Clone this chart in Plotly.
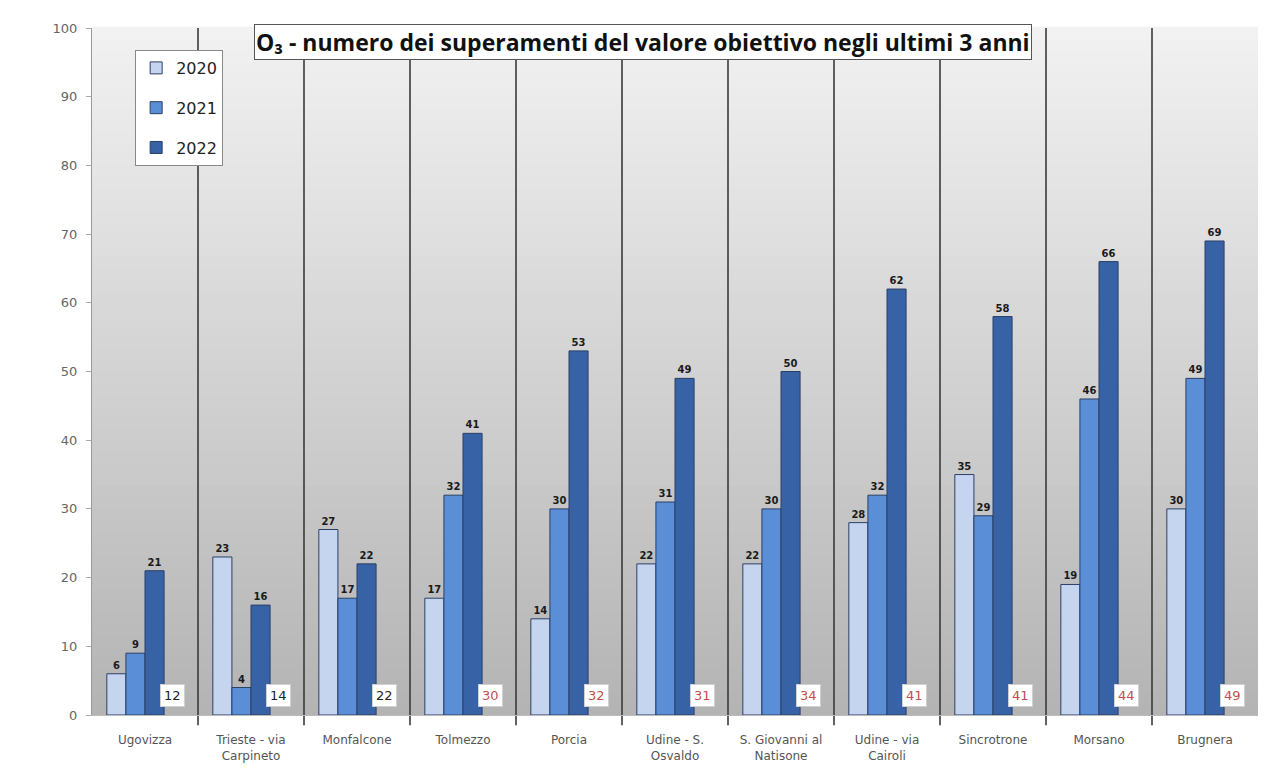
import plotly.graph_objects as go

# Stazioni di monitoraggio e superamenti annuali del valore obiettivo per l'ozono
stazioni = [
    "Ugovizza", "Trieste - via<br>Carpineto", "Monfalcone", "Tolmezzo", "Porcia",
    "Udine - S.<br>Osvaldo", "S. Giovanni al<br>Natisone", "Udine - via<br>Cairoli",
    "Sincrotrone", "Morsano", "Brugnera",
]
sup_2020 = [6, 23, 27, 17, 14, 22, 22, 28, 35, 19, 30]
sup_2021 = [9, 4, 17, 32, 30, 31, 30, 32, 29, 46, 49]
sup_2022 = [21, 16, 22, 41, 53, 49, 50, 62, 58, 66, 69]
media_3anni = [12, 14, 22, 30, 32, 31, 34, 41, 41, 44, 49]
soglia_media = 25

anni = ["2020", "2021", "2022"]
serie = [sup_2020, sup_2021, sup_2022]
colori = ["#c6d5ef", "#5a8fd8", "#3762a6"]
offsets = [-0.36, -0.18, 0.0]
larghezza = 0.18

x_pos = list(range(len(stazioni)))

fig = go.Figure()
for anno, valori, colore, off in zip(anni, serie, colori, offsets):
    fig.add_trace(go.Bar(
        x=x_pos, y=valori, name=anno,
        offset=off, width=larghezza,
        marker=dict(color=colore, line=dict(color="#2b3f66", width=1)),
        text=[f"<b>{v}</b>" for v in valori], textposition="outside",
        cliponaxis=False,
        textfont=dict(family="DejaVu Sans", size=10, color="#1a1a1a"),
        legendgroup=anno,
    ))

shapes = []
# sfondo a gradiente verticale dell'area del grafico
n_bande = 60
for k in range(n_bande):
    t = k / (n_bande - 1)
    c = int(0xb4 + (0xf2 - 0xb4) * t)
    shapes.append(dict(
        type="rect", xref="paper", yref="paper",
        x0=0, x1=1, y0=k / n_bande, y1=(k + 1) / n_bande + 0.002,
        fillcolor=f"rgb({c},{c},{c})", line=dict(width=0), layer="below",
    ))
# separatori verticali tra le stazioni
for i in range(len(stazioni) - 1):
    shapes.append(dict(
        type="line", xref="x", yref="paper",
        x0=i + 0.5, x1=i + 0.5, y0=-0.015, y1=1,
        line=dict(color="#3a3a3a", width=1.6), layer="below",
    ))

annotations = []
# riquadri con la media dei tre anni
for i, m in enumerate(media_3anni):
    annotations.append(dict(
        x=i + 0.26, y=2.9, xref="x", yref="y", text=str(m), showarrow=False,
        font=dict(family="DejaVu Sans", size=13,
                  color="#c0504d" if m > soglia_media else "#222222"),
        bgcolor="white", bordercolor="#d0d0d0", borderwidth=1, borderpad=3,
    ))
# titolo
annotations.append(dict(
    x=0.4726, y=0.98, xref="paper", yref="paper",
    xanchor="center", yanchor="middle",
    text="<b>O₃ - numero dei superamenti del valore obiettivo negli ultimi 3 anni</b>",
    showarrow=False, font=dict(family="Open Sans", size=23, color="#111111"),
    bgcolor="white", bordercolor="#555555", borderwidth=1, borderpad=1,
))

fig.update_layout(
    width=1274, height=769,
    margin=dict(l=92, r=16, t=28, b=54),
    paper_bgcolor="white", plot_bgcolor="#d0d0d0",
    barmode="overlay",
    showlegend=True,
    legend=dict(
        x=0.037, y=0.968, xanchor="left", yanchor="top",
        bgcolor="white", bordercolor="#888888", borderwidth=1,
        font=dict(family="DejaVu Sans", size=16, color="#222222"),
        tracegroupgap=16, traceorder="grouped",
    ),
    shapes=shapes, annotations=annotations,
    xaxis=dict(
        range=[-0.5, len(stazioni) - 0.5], tickmode="array",
        tickvals=x_pos, ticktext=stazioni, showgrid=False, zeroline=False,
        tickfont=dict(family="DejaVu Sans", size=12, color="#555555"),
        showline=True, linecolor="#bbbbbb", ticks="", ticklabelstandoff=14,
        automargin=False,
    ),
    yaxis=dict(
        range=[0, 100], dtick=10, showgrid=False, zeroline=False,
        tickfont=dict(family="DejaVu Sans", size=13, color="#666666"),
        showline=True, linecolor="#999999", ticks="outside", ticklen=5,
        tickcolor="#aaaaaa", ticklabelstandoff=6, automargin=False,
    ),
    font=dict(family="DejaVu Sans"),
)

fig.write_html("out.html")
